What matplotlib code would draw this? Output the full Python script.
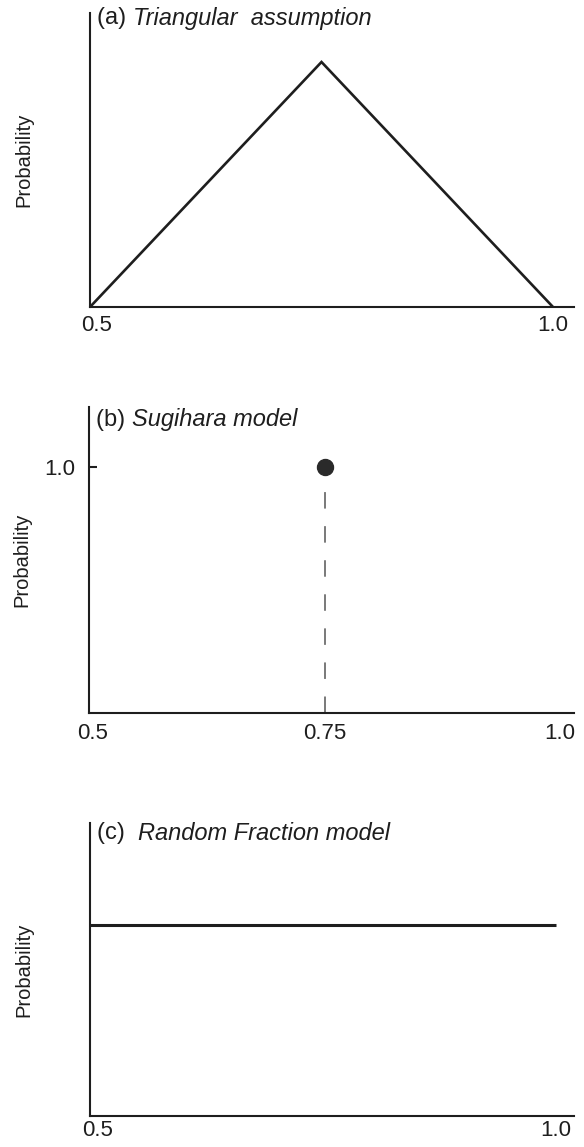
import matplotlib
matplotlib.use("Agg")
import matplotlib.pyplot as plt
import matplotlib.transforms as mtransforms

plt.rcParams['font.family'] = ['Liberation Sans', 'DejaVu Sans']

# (a) triangular density on the fraction interval
tri_x = [0.5, 0.75, 1.0]
tri_y = [0.0, 4.0, 0.0]

# (b) Sugihara model: all probability at 0.75
sug_x = [0.75]
sug_y = [1.0]
sug_yticks = [1.0]
sug_xticks = [0.5, 0.75, 1.0]
sug_xticklabels = ["0.5", "0.75", "1.0"]

# (c) Random Fraction model: uniform density
uni_x = [0.5, 1.0]
uni_y = [2.0, 2.0]

ab_xticks = [0.5, 1.0]
ab_xticklabels = ["0.5", "1.0"]

titles = [("(a) ", "Triangular  assumption"),
          ("(b) ", "Sugihara model"),
          ("(c)  ", "Random Fraction model")]

W, H = 584, 1147
fig = plt.figure(figsize=(W / 100, H / 100), dpi=100)
ink = '#1e1e1e'
TICK_FS = 16
TITLE_FS = 17


def make_axes(left, right, top, bottom):
    return fig.add_axes([left / W, 1 - bottom / H, (right - left) / W, (bottom - top) / H])


def style(ax):
    for s in ('top', 'right'):
        ax.spines[s].set_visible(False)
    for s in ('left', 'bottom'):
        ax.spines[s].set_linewidth(1.5)
        ax.spines[s].set_color(ink)
    ax.tick_params(axis='x', length=0, labelsize=TICK_FS, pad=6, colors=ink)
    ax.set_ylabel("Probability", fontsize=14.5, color=ink, labelpad=0)
    ax.yaxis.set_label_coords(-0.118, 0.5)


def add_title(ax, pre, txt, drop_px):
    h = ax.get_window_extent().height
    y = 1.0 - drop_px / h
    t = ax.text(0.0145, y, pre, transform=ax.transAxes, fontsize=TITLE_FS,
                va='center', ha='left', color=ink)
    fig.canvas.draw()
    bb = t.get_window_extent()
    inv = ax.transAxes.inverted()
    x1 = inv.transform((bb.x1, bb.y0))[0]
    ax.text(x1, y, txt, transform=ax.transAxes, fontsize=TITLE_FS, style='italic',
            va='center', ha='left', color=ink)


def shift_first_label(ax, dx_px):
    lab = ax.get_xticklabels()[0]
    lab.set_transform(lab.get_transform() +
                      mtransforms.ScaledTranslation(dx_px / 100, 0, fig.dpi_scale_trans))


# Panel (a)
ax1 = make_axes(90, 574, 13, 307)
ax1.plot(tri_x, tri_y, color=ink, lw=1.9, solid_joinstyle='miter')
ax1.set_xlim(0.5, 0.5 + (574 - 90) / 926)
ax1.set_ylim(0, 4.0 / ((307 - 62) / (307 - 13)))
ax1.set_xticks(ab_xticks)
ax1.set_xticklabels(ab_xticklabels)
ax1.set_yticks([])
style(ax1)
shift_first_label(ax1, 7)
add_title(ax1, *titles[0], drop_px=5)

# Panel (b)
ax2 = make_axes(89, 574, 407, 713)
ax2.vlines(sug_x, 0, sug_y, colors='#555555', lw=1.1, linestyles=(0, (10.8, 11.5)))
ax2.plot(sug_x, sug_y, 'o', color='#2a2a2a', ms=11.5, zorder=5, clip_on=False)
ax2.set_xlim(0.5, 0.5 + (574 - 89) / 942)
ax2.set_ylim(0, 1.0 / ((713 - 467) / (713 - 407)))
ax2.set_xticks(sug_xticks)
ax2.set_xticklabels(sug_xticklabels)
ax2.set_yticks(sug_yticks)
ax2.set_yticklabels(["1.0"])
ax2.tick_params(axis='y', direction='in', length=6, width=1.5, labelsize=TICK_FS,
                pad=10, colors=ink)
style(ax2)
ax2.tick_params(axis='x', pad=7)
shift_first_label(ax2, 4)
add_title(ax2, *titles[1], drop_px=13)

# Panel (c)
ax3 = make_axes(90, 574, 823, 1116)
ax3.plot(uni_x, uni_y, color=ink, lw=2.2, solid_capstyle='butt')
ax3.set_xlim(0.5, 0.5 + (574 - 90) / 932)
ax3.set_ylim(0, 2.0 / ((1116 - 925) / (1116 - 823)))
ax3.set_xticks(ab_xticks)
ax3.set_xticklabels(ab_xticklabels)
ax3.set_yticks([])
style(ax3)
ax3.tick_params(axis='x', pad=3)
shift_first_label(ax3, 8)
add_title(ax3, *titles[2], drop_px=10)

fig.savefig("out.png", dpi=100)
